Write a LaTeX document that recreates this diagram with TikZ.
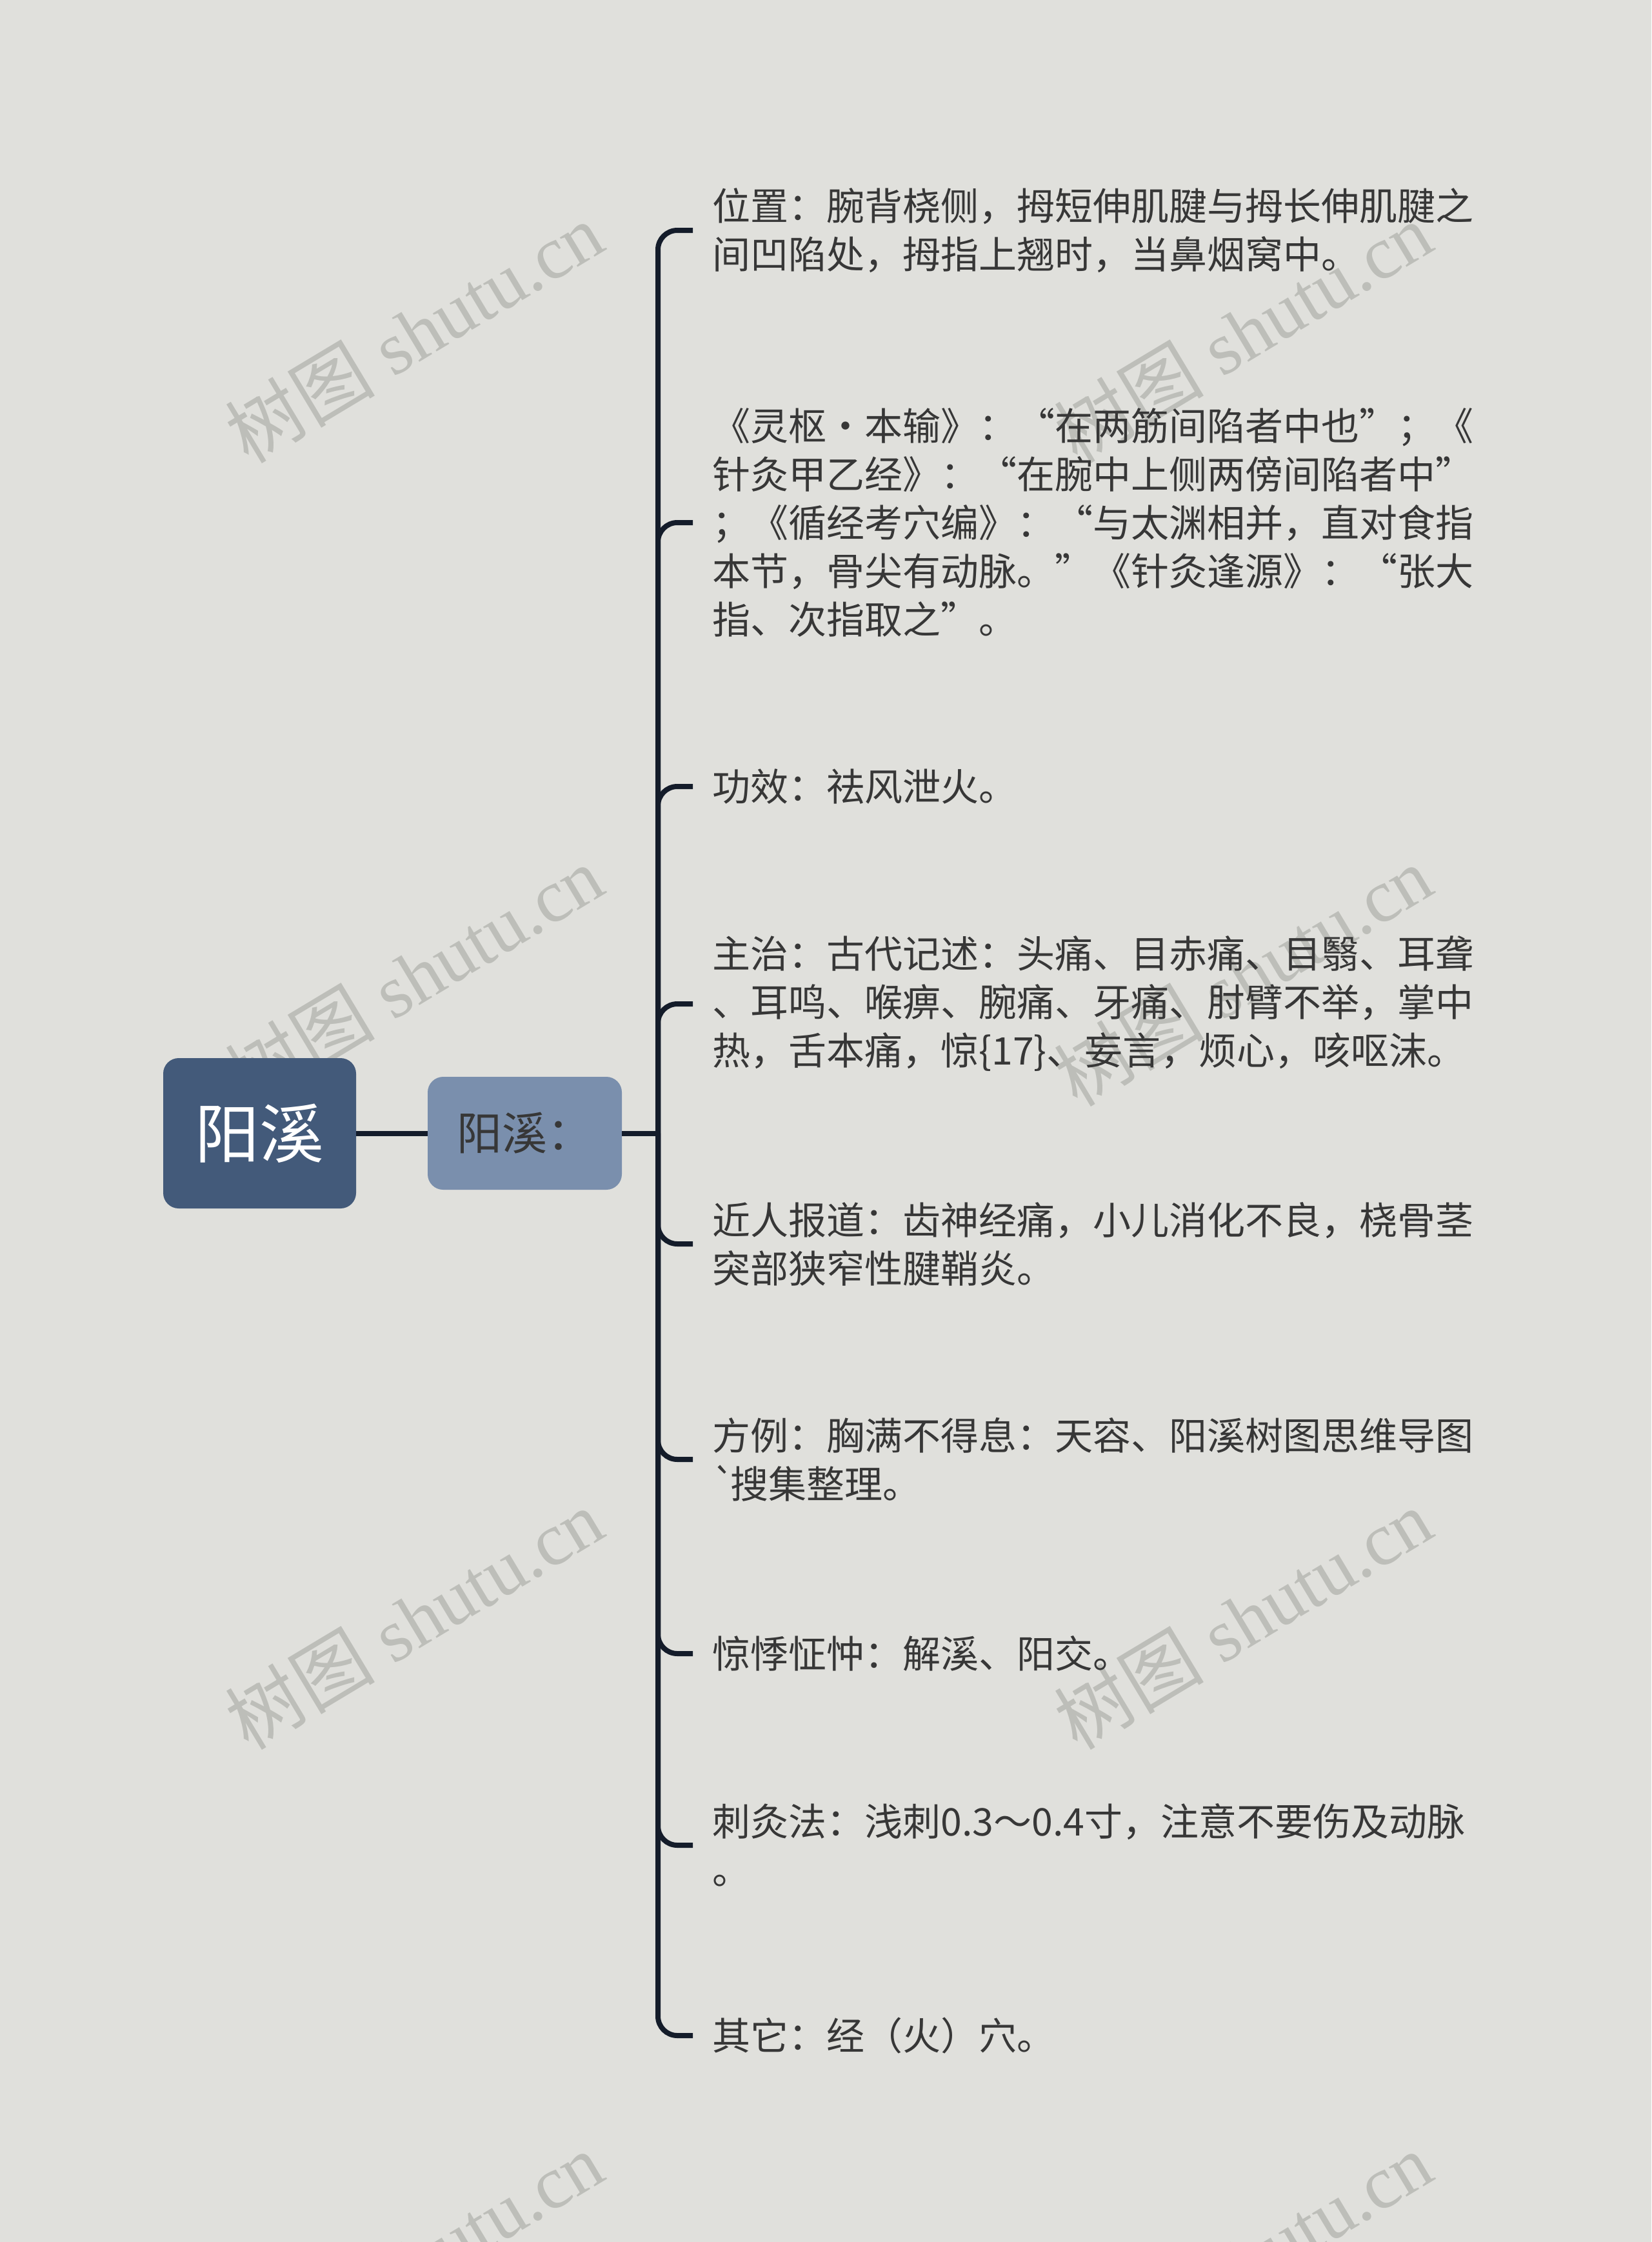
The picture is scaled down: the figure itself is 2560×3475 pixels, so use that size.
\documentclass[tikz,border=0pt]{standalone}
\usepackage{fontspec}
\newfontfamily\cjk{Noto Sans CJK SC}
\newfontfamily\wmserif{Liberation Serif}
\definecolor{bgc}{RGB}{224,224,220}
\definecolor{rootc}{RGB}{67,90,122}
\definecolor{subc}{RGB}{122,143,173}
\definecolor{linec}{RGB}{20,28,42}
\definecolor{txtc}{RGB}{55,55,55}
\definecolor{wmc}{RGB}{189,190,185}
\tikzset{
  rootbox/.style={draw=none, fill=rootc, rounded corners=12pt, minimum width=149.5pt, minimum height=116.5pt, inner sep=0pt, text=white, font=\cjk\fontsize{50pt}{60pt}\selectfont},
  subbox/.style={draw=none, fill=subc, rounded corners=12pt, minimum width=150.5pt, minimum height=87.5pt, inner sep=0pt, text=txtc, font=\cjk\fontsize{35pt}{42pt}\selectfont},
  leaf/.style={anchor=west, align=left, inner xsep=15pt, inner ysep=0pt, text=txtc, font=\cjk\fontsize{29.5pt}{37.5pt}\selectfont},
  link/.style={draw=linec, line width=4pt},
  branch/.style={draw=linec, line width=4pt, rounded corners=15pt},
  wm/.style={rotate=31, text=wmc, inner sep=0pt, font=\wmserif\fontsize{58pt}{66pt}\selectfont}
}
\begin{document}
\begin{tikzpicture}[x=0.5pt,y=-0.5pt]
\useasboundingbox (0,0) rectangle (2560,3475);
\fill[bgc] (0,0) rectangle (2560,3475);
\begin{scope}
\clip (0,0) rectangle (2560,3475);
\node[wm] (w1) at (642,515) {{\cjk 树图} shutu.cn};
\node[wm] (w2) at (1927,515) {{\cjk 树图} shutu.cn};
\node[wm] (w3) at (642,1512) {{\cjk 树图} shutu.cn};
\node[wm] (w4) at (1927,1512) {{\cjk 树图} shutu.cn};
\node[wm] (w5) at (642,2509) {{\cjk 树图} shutu.cn};
\node[wm] (w6) at (1927,2509) {{\cjk 树图} shutu.cn};
\node[wm] (w7) at (642,3506) {{\cjk 树图} shutu.cn};
\node[wm] (w8) at (1927,3506) {{\cjk 树图} shutu.cn};
\end{scope}

\node[rootbox] (root) at (402.5,1756.5) {阳溪};
\node[subbox] (sub) at (813.5,1756.5) {阳溪：};
\coordinate (hub) at (1020,1756.5);

\node[leaf] (c1) at (1074,357) {位置：腕背桡侧，拇短伸肌腱与拇长伸肌腱之\\间凹陷处，拇指上翘时，当鼻烟窝中。};
\node[leaf] (c2) at (1074,810) {《灵枢·本输》：“在两筋间陷者中也”；《\\针灸甲乙经》：“在腕中上侧两傍间陷者中”\\；《循经考穴编》：“与太渊相并，直对食指\\本节，骨尖有动脉。”《针灸逢源》：“张大\\指、次指取之”。};
\node[leaf] (c3) at (1074,1219) {功效：祛风泄火。};
\node[leaf] (c4) at (1074,1556) {主治：古代记述：头痛、目赤痛、目翳、耳聋\\、耳鸣、喉痹、腕痛、牙痛、肘臂不举，掌中\\热，舌本痛，惊\{17\}、妄言，烦心，咳呕沫。};
\node[leaf] (c5) at (1074,1928) {近人报道：齿神经痛，小儿消化不良，桡骨茎\\突部狭窄性腱鞘炎。};
\node[leaf] (c6) at (1074,2262) {方例：胸满不得息：天容、阳溪树图思维导图\\`\kern-4pt 搜集整理。};
\node[leaf] (c7) at (1074,2563) {惊悸怔忡：解溪、阳交。};
\node[leaf] (c8) at (1074,2860) {刺灸法：浅刺0.3～0.4寸，注意不要伤及动脉\\。};
\node[leaf] (c9) at (1074,3155) {其它：经（火）穴。};

\draw[link] (root.east) -- (sub.west);
\draw[link] (sub.east) -- (hub);
\foreach \c in {c1,c2,c3,c4,c5,c6,c7,c8,c9}{
  \draw[branch] (hub) |- (\c.west);
}
\end{tikzpicture}
\end{document}
